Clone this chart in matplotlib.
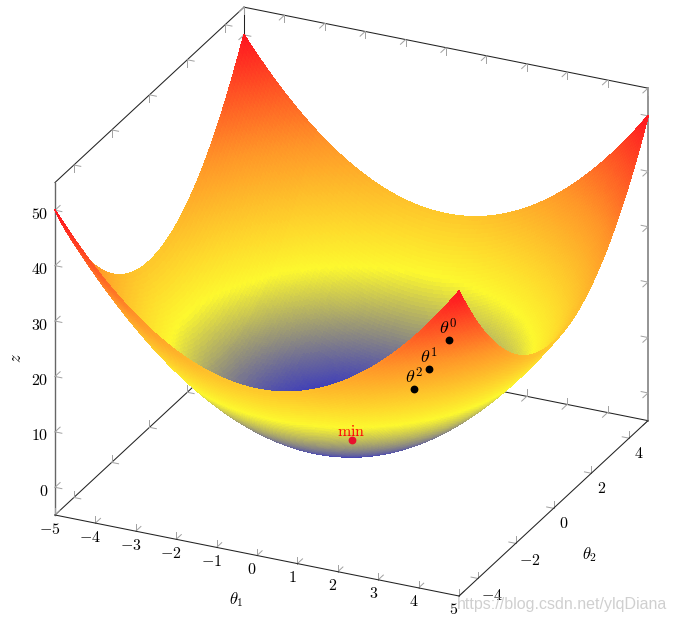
import numpy as np
import matplotlib
matplotlib.use('Agg')
import matplotlib.pyplot as plt
from matplotlib.colors import LinearSegmentedColormap
from mpl_toolkits.mplot3d import proj3d

plt.rcParams['mathtext.fontset'] = 'cm'

# bowl height along one theta axis, centre to rim in steps of 1/16 (mirrored for the other side)
# the surface height is profile(t1) + profile(t2): 0 at the centre, 50 at the corners
half_profile = [0, .004, .016, .035, .063, .098, .141, .191, .25, .316, .391, .473, .563, .66, .766, .879,
                1, 1.129, 1.266, 1.41, 1.563, 1.723, 1.891, 2.066, 2.25, 2.441, 2.641, 2.848, 3.063, 3.285,
                3.516, 3.754, 4, 4.254, 4.516, 4.785, 5.063, 5.348, 5.641, 5.941, 6.25, 6.566, 6.891, 7.223,
                7.563, 7.91, 8.266, 8.629, 9, 9.379, 9.766, 10.16, 10.563, 10.973, 11.391, 11.816, 12.25,
                12.691, 13.141, 13.598, 14.063, 14.535, 15.016, 15.504, 16, 16.504, 17.016, 17.535, 18.063,
                18.598, 19.141, 19.691, 20.25, 20.816, 21.391, 21.973, 22.563, 23.16, 23.766, 24.379, 25]

x_ticks = [-5, -4, -3, -2, -1, 0, 1, 2, 3, 4, 5]
y_ticks = [-4, -2, 0, 2, 4]
z_ticks = [0, 10, 20, 30, 40, 50]

steps_x = [1, 0.8, 0.64]
steps_y = [3, 2.4, 1.92]
steps_z = [10, 6.4, 4.1]
step_labels = [r'$\theta^0$', r'$\theta^1$', r'$\theta^2$']

x_lo, x_hi = -5, 5
y_lo, y_hi = -5, 5
z_lo, z_hi = -5, 55

hot = LinearSegmentedColormap.from_list('pgf_hot', ['#1414d8', '#fdf82e', '#ff9628', '#ff1420'])

fig = plt.figure(figsize=(6.76, 6.22), dpi=100)
ax = fig.add_axes([0, 0, 1, 1], projection='3d', proj_type='ortho')
ax.computed_zorder = False
ax.set_xlim(x_lo, x_hi, view_margin=0)
ax.set_ylim(y_lo, y_hi, view_margin=0)
ax.set_zlim(z_lo, z_hi, view_margin=0)
ax.view_init(elev=25.55, azim=-65.07)
ax.set_box_aspect((445.5, 448.3, 368.5))
ax.set_axis_off()


def to_px(x, y, z):
    px, py, _ = proj3d.proj_transform(x, y, z, ax.get_proj())
    return ax.transData.transform((px, py))


# move the axes so the box corners land where they are in the reference
fig.canvas.draw()
p0 = to_px(x_lo, y_lo, z_lo)
p1 = to_px(x_hi, y_hi, z_lo)
s = (p1[0] - p0[0]) / (648 - 55)
side = 622 / s
cx = 55 - (p0[0] - 338) / s
cy = (622 - 515) - (p0[1] - 311) / s
ax.set_position([(cx - side / 2) / 676, (cy - side / 2) / 622, side / 676, side / 622])

# back and front edges of the box
edge = dict(color='#222222', lw=0.75)
ax.plot([x_lo, x_lo], [y_lo, y_hi], [z_hi, z_hi], zorder=1, **edge)
ax.plot([x_lo, x_hi], [y_hi, y_hi], [z_hi, z_hi], zorder=1, **edge)
ax.plot([x_lo, x_lo], [y_lo, y_hi], [z_lo, z_lo], zorder=1, **edge)
ax.plot([x_lo, x_hi], [y_hi, y_hi], [z_lo, z_lo], zorder=1, **edge)
ax.plot([x_lo, x_lo], [y_hi, y_hi], [z_lo, z_hi], zorder=1, **edge)
ax.plot([x_hi, x_hi], [y_hi, y_hi], [z_lo, z_hi], zorder=1, color='#777777', lw=1.1)
ax.plot([x_lo, x_lo], [y_lo, y_lo], [z_lo, z_hi], zorder=1, color='#666666', lw=1.0)
ax.plot([x_lo, x_hi], [y_lo, y_lo], [z_lo, z_lo], zorder=4, **edge)
ax.plot([x_hi, x_hi], [y_lo, y_hi], [z_lo, z_lo], zorder=4, **edge)

# the two little strokes at every tick
tick = dict(color='#a0a0a0', lw=0.7, zorder=1)
dx, dy, dz = 0.17, 0.27, 1.25
for t in x_ticks:
    for yy, zz, sy, sz in [(y_lo, z_lo, 1, 1), (y_hi, z_lo, -1, 1), (y_hi, z_hi, -1, -1)]:
        ax.plot([t, t], [yy, yy + sy * dy], [zz, zz], **tick)
        ax.plot([t, t], [yy, yy], [zz, zz + sz * dz], **tick)
for t in y_ticks:
    for xx, zz, sx, sz in [(x_lo, z_lo, 1, 1), (x_hi, z_lo, -1, 1), (x_lo, z_hi, 1, -1)]:
        ax.plot([xx, xx + sx * dx], [t, t], [zz, zz], **tick)
        ax.plot([xx, xx], [t, t], [zz, zz + sz * dz], **tick)
for t in z_ticks:
    for xx, yy, sx, sy in [(x_lo, y_lo, 1, 1), (x_hi, y_hi, -1, -1), (x_lo, y_hi, 1, -1)]:
        ax.plot([xx, xx + sx * dx], [yy, yy], [t, t], **tick)
        ax.plot([xx, xx], [yy, yy + sy * dy], [t, t], **tick)

# surface, not antialiased so the small facets leave no seams
theta = np.linspace(x_lo, x_hi, 2 * len(half_profile) - 1)
X, Y = np.meshgrid(theta, theta)
profile = np.array(half_profile[:0:-1] + half_profile)
Z = np.add.outer(profile, profile)
Z_mid = (Z[:-1, :-1] + Z[1:, :-1] + Z[:-1, 1:] + Z[1:, 1:]) / 4
colors = hot(Z_mid / 50)
ax.plot_surface(X, Y, Z, rstride=1, cstride=1, facecolors=colors, shade=False,
                linewidth=0.5, antialiased=False, zorder=2)


def label(x, y, z, text, off_x, off_y, **kw):
    px, py, _ = proj3d.proj_transform(x, y, z, ax.get_proj())
    ax.annotate(text, (px, py), xytext=(off_x, off_y), textcoords='offset pixels',
                annotation_clip=False, zorder=6, **kw)


fs = 11.5
for t in x_ticks:
    label(t, y_lo, z_lo, f'${t}$', -5, -14, ha='center', va='center', fontsize=fs)
for t in y_ticks:
    label(x_hi, t, z_lo, f'${t}$', 14 if t < 0 else 10, -17 if t < 0 else -15,
          ha='center', va='center', fontsize=fs)
for t in z_ticks:
    label(x_lo, y_lo, t, f'${t}$', -7, -4, ha='right', va='center', fontsize=fs)

# descent steps and the minimum, on top of the surface
ax.plot(steps_x, steps_y, steps_z, 'o', color='black', ms=4.6, zorder=5)
for x, y, z, lab in zip(steps_x, steps_y, steps_z, step_labels):
    label(x, y, z, lab, 0, 12, ha='center', va='center', fontsize=13)
ax.plot([0], [0], [0], 'o', color='#e8112d', ms=4.6, zorder=5)
label(0, 0, 0, r'$\mathrm{min}$', 0, 9, ha='center', va='center', fontsize=11.5, color='#ff0000')

fig.text(236 / 676, 1 - 600 / 622, r'$\theta_1$', ha='center', va='center', fontsize=12)
fig.text(590 / 676, 1 - 555 / 622, r'$\theta_2$', ha='center', va='center', fontsize=12)
fig.text(16 / 676, 1 - 358 / 622, r'$z$', ha='center', va='center', fontsize=12, rotation=90)

fig.text(457 / 676, 1 - 605 / 622, 'https://blog.csdn.net/ylqDiana', family='Liberation Sans',
         fontsize=11.5, color='#c4c4c4', alpha=0.8, ha='left', va='center')

fig.savefig('out.png', dpi=100)
